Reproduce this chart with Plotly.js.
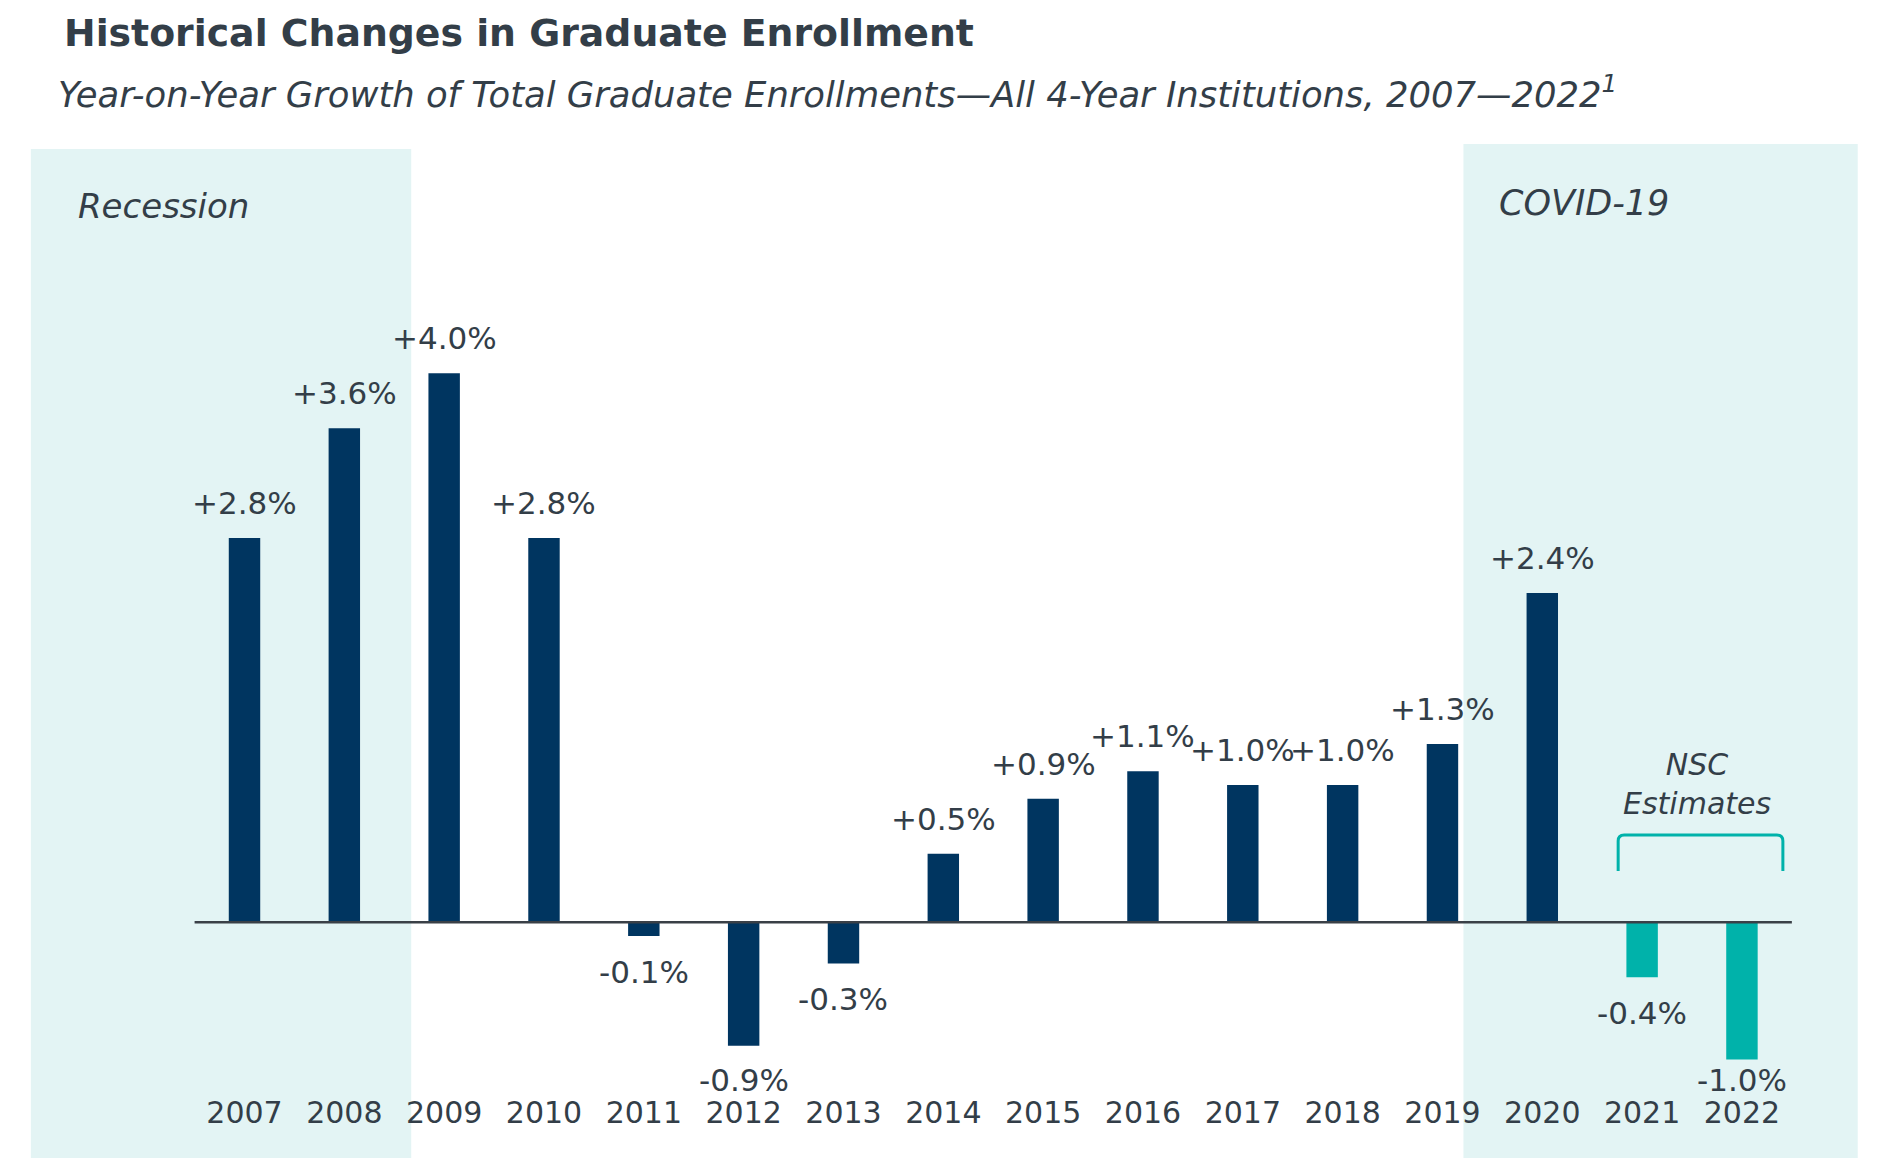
<!DOCTYPE html>
<html>
<head>
<meta charset="utf-8">
<script src="https://cdn.plot.ly/plotly-3.0.1.min.js"></script>
<style>
  html, body { margin: 0; padding: 0; background: #ffffff; }
  #chart { width: 1891px; height: 1172px; }
</style>
</head>
<body>
<div id="chart"></div>
<script>
// values
var years = [2007, 2008, 2009, 2010, 2011, 2012, 2013, 2014, 2015, 2016, 2017, 2018, 2019, 2020, 2021, 2022];
var growth = [2.8, 3.6, 4.0, 2.8, -0.1, -0.9, -0.3, 0.5, 0.9, 1.1, 1.0, 1.0, 1.3, 2.4, -0.4, -1.0];
var source = ['actual', 'actual', 'actual', 'actual', 'actual', 'actual', 'actual', 'actual',
              'actual', 'actual', 'actual', 'actual', 'actual', 'actual', 'estimate', 'estimate'];
var yearLabels = ['2007', '2008', '2009', '2010', '2011', '2012', '2013', '2014',
                  '2015', '2016', '2017', '2018', '2019', '2020', '2021', '2022'];
var periods = [
  {name: 'Recession', from: 2004.86, to: 2008.67},
  {name: 'COVID-19', from: 2019.21, to: 2023.16}
];

var navy = '#003560';
var teal = '#00b2aa';
var shade = '#e3f4f4';
var ink = '#333e48';
var font = 'DejaVu Sans, Verdana, sans-serif';

var W = 1891, H = 1172, B = 80;
var plotH = H - B;
var pxPerUnit = 137.25;   // vertical scale of the bars
var zeroPx = 922.3;       // zero line, pixels from top
var pxPerYear = 99.83;
var firstPx = 244.5;      // centre of the 2007 bar

function pickBy(arr, kind) {
  return arr.filter(function (d, i) { return source[i] == kind; });
}
function fmt(v) {
  return (v > 0 ? '+' : '') + v.toFixed(1) + '%';
}
function py(p) { return (plotH - p) / plotH; }   // pixel row -> paper y
function px(p) { return p / W; }                 // pixel column -> paper x

var traces = [
  {
    x: pickBy(years, 'actual'),
    y: pickBy(growth, 'actual'),
    type: 'bar',
    name: 'Actual',
    marker: {color: navy},
    hoverinfo: 'x+y'
  },
  {
    x: pickBy(years, 'estimate'),
    y: pickBy(growth, 'estimate'),
    type: 'bar',
    name: 'NSC Estimates',
    marker: {color: teal},
    hoverinfo: 'x+y'
  }
];

var annotations = [];
for (var i = 0; i < years.length; i++) {
  var v = growth[i];
  var shift;
  if (v >= 0) {
    shift = 35;
  } else {
    // keep the lowest labels clear of the year labels
    var end = zeroPx - v * pxPerUnit;
    shift = -Math.min(36, 1080 - end);
  }
  annotations.push({
    x: years[i], y: v, xref: 'x', yref: 'y',
    text: fmt(v), showarrow: false,
    xanchor: 'center', yanchor: 'middle', yshift: shift,
    font: {family: font, size: 31, color: ink}
  });
}

annotations.push({
  x: px(62), y: py(32.5), xref: 'paper', yref: 'paper',
  text: 'Historical Changes in Graduate Enrollment', showarrow: false,
  xanchor: 'left', yanchor: 'middle',
  font: {family: font, size: 37.8, color: ink, weight: 'bold'}
});
annotations.push({
  x: px(56), y: py(92), xref: 'paper', yref: 'paper',
  text: 'Year-on-Year Growth of Total Graduate Enrollments\u2014All 4-Year Institutions, 2007\u20142022<sup>1</sup>',
  showarrow: false, xanchor: 'left', yanchor: 'middle',
  font: {family: font, size: 35.4, color: ink, style: 'italic'}
});
annotations.push({
  x: px(76), y: py(206), xref: 'paper', yref: 'paper',
  text: periods[0].name, showarrow: false, xanchor: 'left', yanchor: 'middle',
  font: {family: font, size: 34, color: ink, style: 'italic'}
});
annotations.push({
  x: px(1497), y: py(203), xref: 'paper', yref: 'paper',
  text: periods[1].name, showarrow: false, xanchor: 'left', yanchor: 'middle',
  font: {family: font, size: 35, color: ink, style: 'italic'}
});
annotations.push({
  x: px(1697), y: py(784), xref: 'paper', yref: 'paper',
  text: 'NSC<br>Estimates', showarrow: false, xanchor: 'center', yanchor: 'middle',
  align: 'center',
  font: {family: font, size: 30, color: ink, style: 'italic'}
});

var shapes = periods.map(function (p, k) {
  return {
    type: 'rect', layer: 'below', xref: 'x', yref: 'paper',
    x0: p.from, x1: p.to, y0: py(1158), y1: py(k == 0 ? 149 : 144),
    fillcolor: shade, line: {width: 0}
  };
});

// zero line across the bars only
shapes.push({
  type: 'line', layer: 'above', xref: 'x', yref: 'y',
  x0: years[0] - 0.5, x1: years[years.length - 1] + 0.5, y0: 0, y1: 0,
  line: {color: '#3a4047', width: 2.5}
});

// bracket over the estimate bars
var bx0 = 2020.76, bx1 = 2022.41, by0 = 0.374, by1 = 0.636, rx = 0.06, ry = 0.044;
shapes.push({
  type: 'path', layer: 'above', xref: 'x', yref: 'y',
  path: 'M ' + bx0 + ',' + by0 + ' L ' + bx0 + ',' + (by1 - ry) +
        ' Q ' + bx0 + ',' + by1 + ' ' + (bx0 + rx) + ',' + by1 +
        ' L ' + (bx1 - rx) + ',' + by1 +
        ' Q ' + bx1 + ',' + by1 + ' ' + bx1 + ',' + (by1 - ry) +
        ' L ' + bx1 + ',' + by0,
  line: {color: teal, width: 3}
});

var xLeft = years[0] - firstPx / pxPerYear;
var layout = {
  width: W,
  height: H,
  margin: {l: 0, r: 0, t: 0, b: B},
  paper_bgcolor: '#ffffff',
  plot_bgcolor: 'rgba(0,0,0,0)',
  showlegend: false,
  barmode: 'overlay',
  bargap: 0.685,
  hovermode: 'closest',
  xaxis: {
    type: 'linear',
    range: [xLeft, xLeft + W / pxPerYear],
    tickvals: years,
    ticktext: yearLabels,
    ticks: '',
    showgrid: false,
    zeroline: false,
    showline: false,
    tickfont: {family: font, size: 30, color: ink},
    fixedrange: true
  },
  yaxis: {
    range: [-(plotH - zeroPx) / pxPerUnit, zeroPx / pxPerUnit],
    visible: false,
    showgrid: false,
    zeroline: false,
    fixedrange: true
  },
  shapes: shapes,
  annotations: annotations
};

Plotly.newPlot('chart', traces, layout, {displaylogo: false, displayModeBar: false});
</script>
</body>
</html>
